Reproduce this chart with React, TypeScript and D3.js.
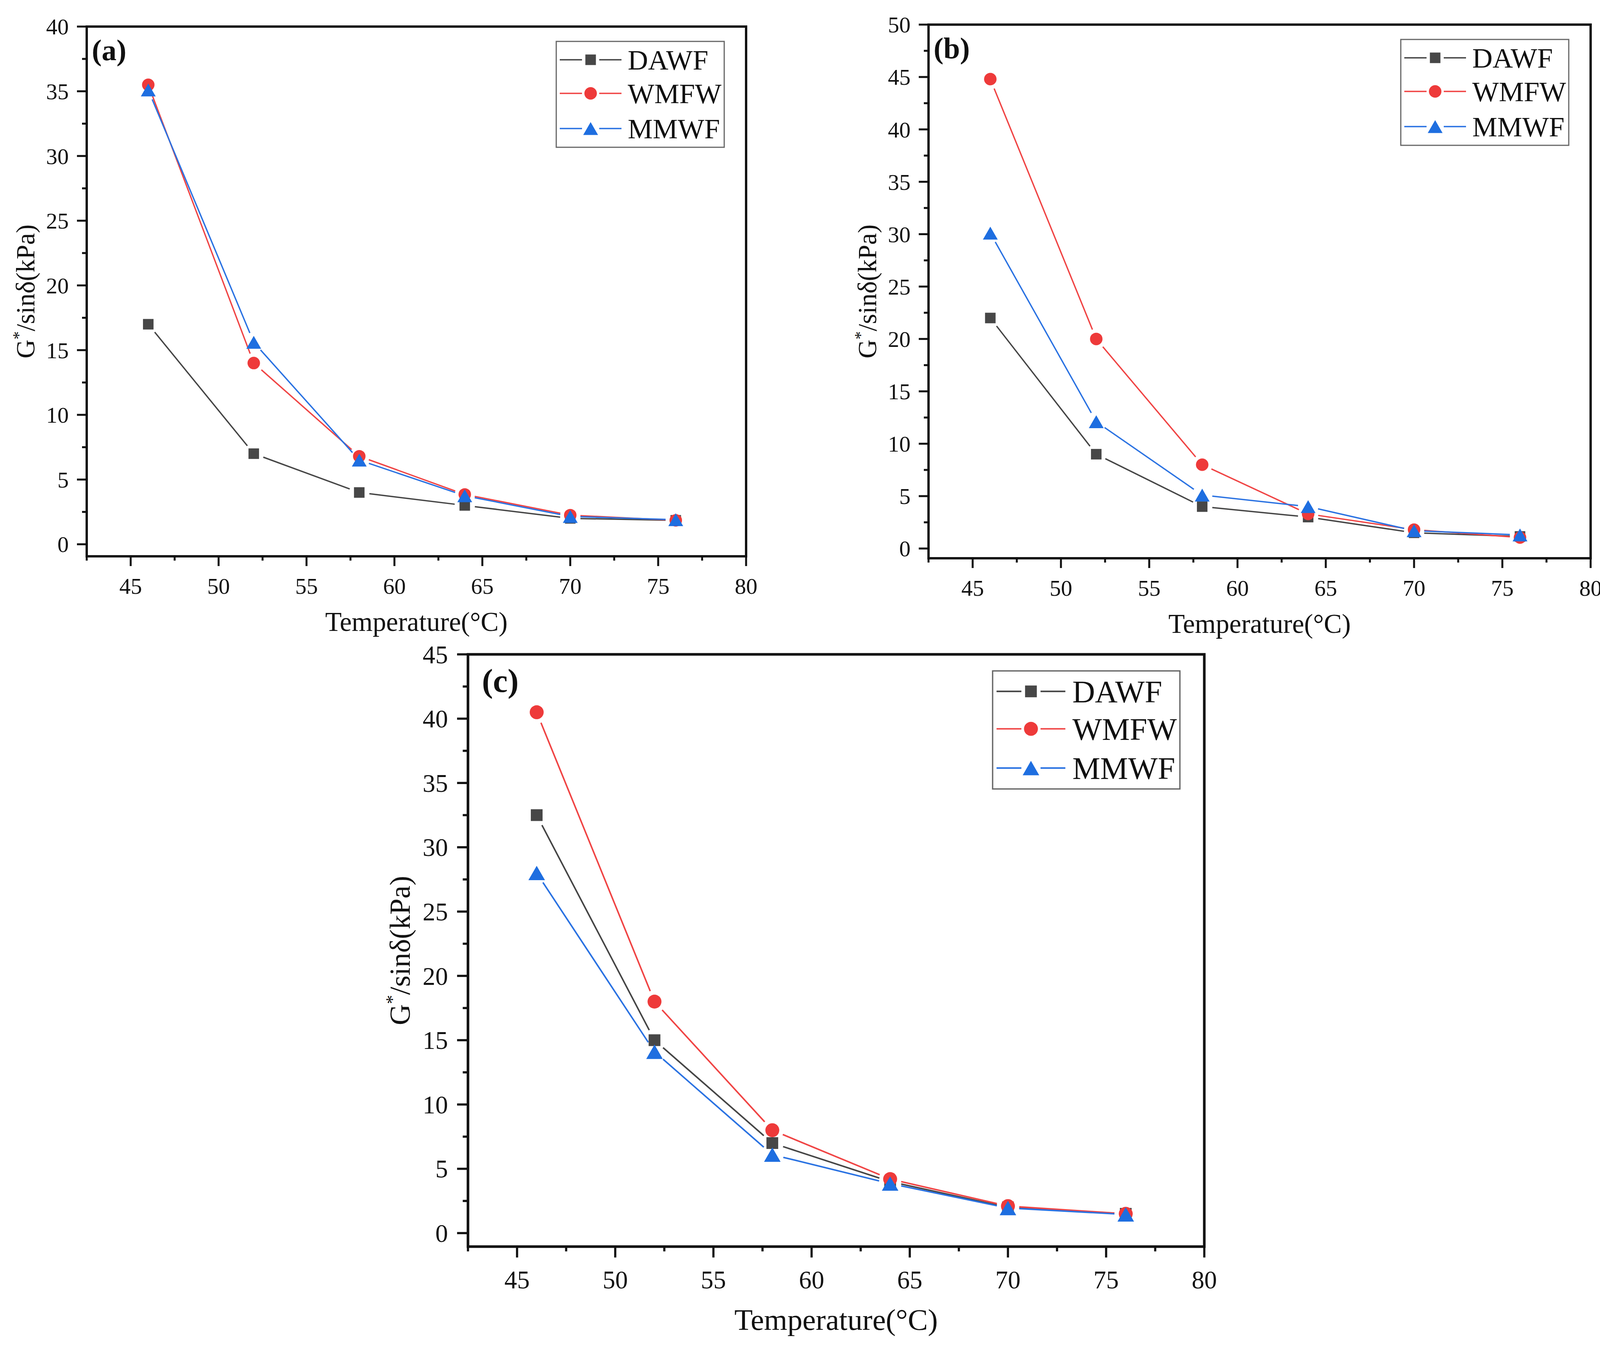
import * as d3 from 'd3'

const W = 4146
const H = 3448
const FONT = '"Liberation Serif", "Times New Roman", serif'

// temperatures (°C) shared by every panel
const temps = [46, 52, 58, 64, 70, 76]
const xTicks = [45, 50, 55, 60, 65, 70, 75, 80]
const xMinor = [42.5, 47.5, 52.5, 57.5, 62.5, 67.5, 72.5, 77.5]

const seriesNames = ['DAWF', 'WMFW', 'MMWF']

// panel (a)
const yTicksA = [0, 5, 10, 15, 20, 25, 30, 35, 40]
const dawfA = [17, 7, 4, 3, 2, 1.85]
const wmfwA = [35.5, 14, 6.8, 3.85, 2.25, 1.85]
const mmwfA = [35.1, 15.6, 6.5, 3.75, 2.15, 1.9]

// panel (b)
const yTicksB = [0, 5, 10, 15, 20, 25, 30, 35, 40, 45, 50]
const dawfB = [22, 9, 4, 3, 1.5, 1.15]
const wmfwB = [44.8, 20, 8, 3.3, 1.8, 1.05]
const mmwfB = [30.1, 12.1, 5.1, 4.0, 1.7, 1.3]

// panel (c)
const yTicksC = [0, 5, 10, 15, 20, 25, 30, 35, 40, 45]
const dawfC = [32.5, 15, 7, 4, 2, 1.5]
const wmfwC = [40.5, 18, 8, 4.2, 2.1, 1.5]
const mmwfC = [28, 14.1, 6.1, 3.85, 1.95, 1.45]

const STYLE = [
  { line: '#454545', fill: '#474747', shape: 'square' },
  { line: '#f04444', fill: '#ee3a3a', shape: 'circle' },
  { line: '#2a72e2', fill: '#1e6ee0', shape: 'triangle' },
]

const panels = [
  { label: '(a)', left: 222, right: 1910, top: 68, bottom: 1424, yMin: -0.93, yMax: 40, s: 1, labelDx: 13, yTicks: yTicksA, values: [dawfA, wmfwA, mmwfA] },
  { label: '(b)', left: 2377, right: 4072, top: 63, bottom: 1429, yMin: -0.93, yMax: 50, s: 1, labelDx: 13, yTicks: yTicksB, values: [dawfB, wmfwB, mmwfB] },
  { label: '(c)', left: 1198, right: 3083, top: 1675, bottom: 3191, yMin: -1.05, yMax: 45, s: 1.115, labelDx: 32, yTicks: yTicksC, values: [dawfC, wmfwC, mmwfC] },
]

function Marker({ shape, cx, cy, s, fill }: { shape: string; cx: number; cy: number; s: number; fill: string }) {
  if (shape === 'square') {
    const a = 27 * s
    return <rect x={cx - a / 2} y={cy - a / 2} width={a} height={a} fill={fill} />
  }
  if (shape === 'circle') {
    return <circle cx={cx} cy={cy} r={16 * s} fill={fill} />
  }
  const w = 38 * s
  const h = 33 * s
  const pts = `${cx},${cy - h / 2} ${cx + w / 2},${cy + h / 2} ${cx - w / 2},${cy + h / 2}`
  return <polygon points={pts} fill={fill} />
}

function Panel({ p }: { p: typeof panels[number] }) {
  const s = p.s
  const x = d3.scaleLinear().domain([42.5, 80]).range([p.left, p.right])
  const y = d3.scaleLinear().domain([p.yMin, p.yMax]).range([p.bottom, p.top])
  const yMinor = p.yTicks.slice(0, -1).map(v => v + 2.5)
  const midX = (p.left + p.right) / 2
  const midY = (p.top + p.bottom) / 2
  const gap = 26 * s

  const lgW = 430 * s
  const lgH = 271 * s
  const lgX = p.right - 56 * s - lgW
  const lgY = p.top + 38 * s
  const lgRows = [47, 133, 223].map(v => lgY + v * s)

  return (
    <g>
      {/* series: Origin-style lines that stop short of the markers */}
      {p.values.map((vals, si) => {
        const pts = vals.map((v, i) => [x(temps[i]), y(v)])
        const segs = pts.slice(0, -1).map((a, i) => {
          const b = pts[i + 1]
          const dx = b[0] - a[0]
          const dy = b[1] - a[1]
          const len = Math.hypot(dx, dy)
          if (len <= gap * 2) return null
          const ux = dx / len
          const uy = dy / len
          return (
            <line key={i} x1={a[0] + ux * gap} y1={a[1] + uy * gap} x2={b[0] - ux * gap} y2={b[1] - uy * gap}
              stroke={STYLE[si].line} strokeWidth={3.5 * s} />
          )
        })
        return (
          <g key={si}>
            {segs}
            {pts.map((q, i) => (
              <Marker key={i} shape={STYLE[si].shape} cx={q[0]} cy={q[1]} s={s} fill={STYLE[si].fill} />
            ))}
          </g>
        )
      })}

      {/* frame */}
      <rect x={p.left} y={p.top} width={p.right - p.left} height={p.bottom - p.top}
        fill="none" stroke="#111" strokeWidth={6 * s} />

      {/* y ticks */}
      {p.yTicks.map(v => (
        <g key={'y' + v}>
          <line x1={p.left - 25 * s} x2={p.left} y1={y(v)} y2={y(v)} stroke="#111" strokeWidth={5 * s} />
          <text x={p.left - 46 * s} y={y(v)} dy="0.35em" textAnchor="end" fontFamily={FONT}
            fontSize={58 * s} fill="#111">{v}</text>
        </g>
      ))}
      {yMinor.map(v => (
        <line key={'ym' + v} x1={p.left - 12 * s} x2={p.left} y1={y(v)} y2={y(v)} stroke="#111" strokeWidth={5 * s} />
      ))}

      {/* x ticks */}
      {xTicks.map(v => (
        <g key={'x' + v}>
          <line x1={x(v)} x2={x(v)} y1={p.bottom} y2={p.bottom + 25 * s} stroke="#111" strokeWidth={5 * s} />
          <text x={x(v)} y={p.bottom + 96 * s} textAnchor="middle" fontFamily={FONT}
            fontSize={58 * s} fill="#111">{v}</text>
        </g>
      ))}
      {xMinor.map(v => (
        <line key={'xm' + v} x1={x(v)} x2={x(v)} y1={p.bottom} y2={p.bottom + 11 * s} stroke="#111" strokeWidth={5 * s} />
      ))}

      {/* axis titles */}
      <text x={midX} y={p.bottom + 191 * s} textAnchor="middle" fontFamily={FONT} fontSize={69 * s} fill="#111">
        Temperature(°C)
      </text>
      <text transform={`translate(${p.left - 134 * s},${midY}) rotate(-90)`} textAnchor="middle"
        fontFamily={FONT} fontSize={67 * s} fill="#111">
        G<tspan fontSize={42 * s} dy={-26 * s}>*</tspan><tspan dy={26 * s}>/sinδ(kPa)</tspan>
      </text>

      {/* panel label */}
      <text x={p.left + p.labelDx * s} y={p.top + 86 * s} fontFamily={FONT} fontWeight="bold"
        fontSize={76 * s} fill="#111">{p.label}</text>

      {/* legend */}
      <rect x={lgX} y={lgY} width={lgW} height={lgH} fill="#fff" stroke="#666" strokeWidth={3 * s} />
      {seriesNames.map((name, si) => {
        const cy = lgRows[si]
        const mx = lgX + 88 * s
        return (
          <g key={name}>
            <line x1={lgX + 9 * s} x2={mx - 22 * s} y1={cy} y2={cy} stroke={STYLE[si].line} strokeWidth={3.5 * s} />
            <line x1={mx + 22 * s} x2={lgX + 167 * s} y1={cy} y2={cy} stroke={STYLE[si].line} strokeWidth={3.5 * s} />
            <Marker shape={STYLE[si].shape} cx={mx} cy={cy} s={s} fill={STYLE[si].fill} />
            <text x={lgX + 183 * s} y={cy} dy="0.35em" fontFamily={FONT} fontSize={72 * s} fill="#111">{name}</text>
          </g>
        )
      })}
    </g>
  )
}

export default function App() {
  return (
    <svg width={W} height={H} viewBox={`0 0 ${W} ${H}`}
      style={{ position: 'absolute', left: 0, top: 0, background: '#fff' }}>
      <rect width={W} height={H} fill="#fff" />
      {panels.map(p => <Panel key={p.label} p={p} />)}
    </svg>
  )
}
